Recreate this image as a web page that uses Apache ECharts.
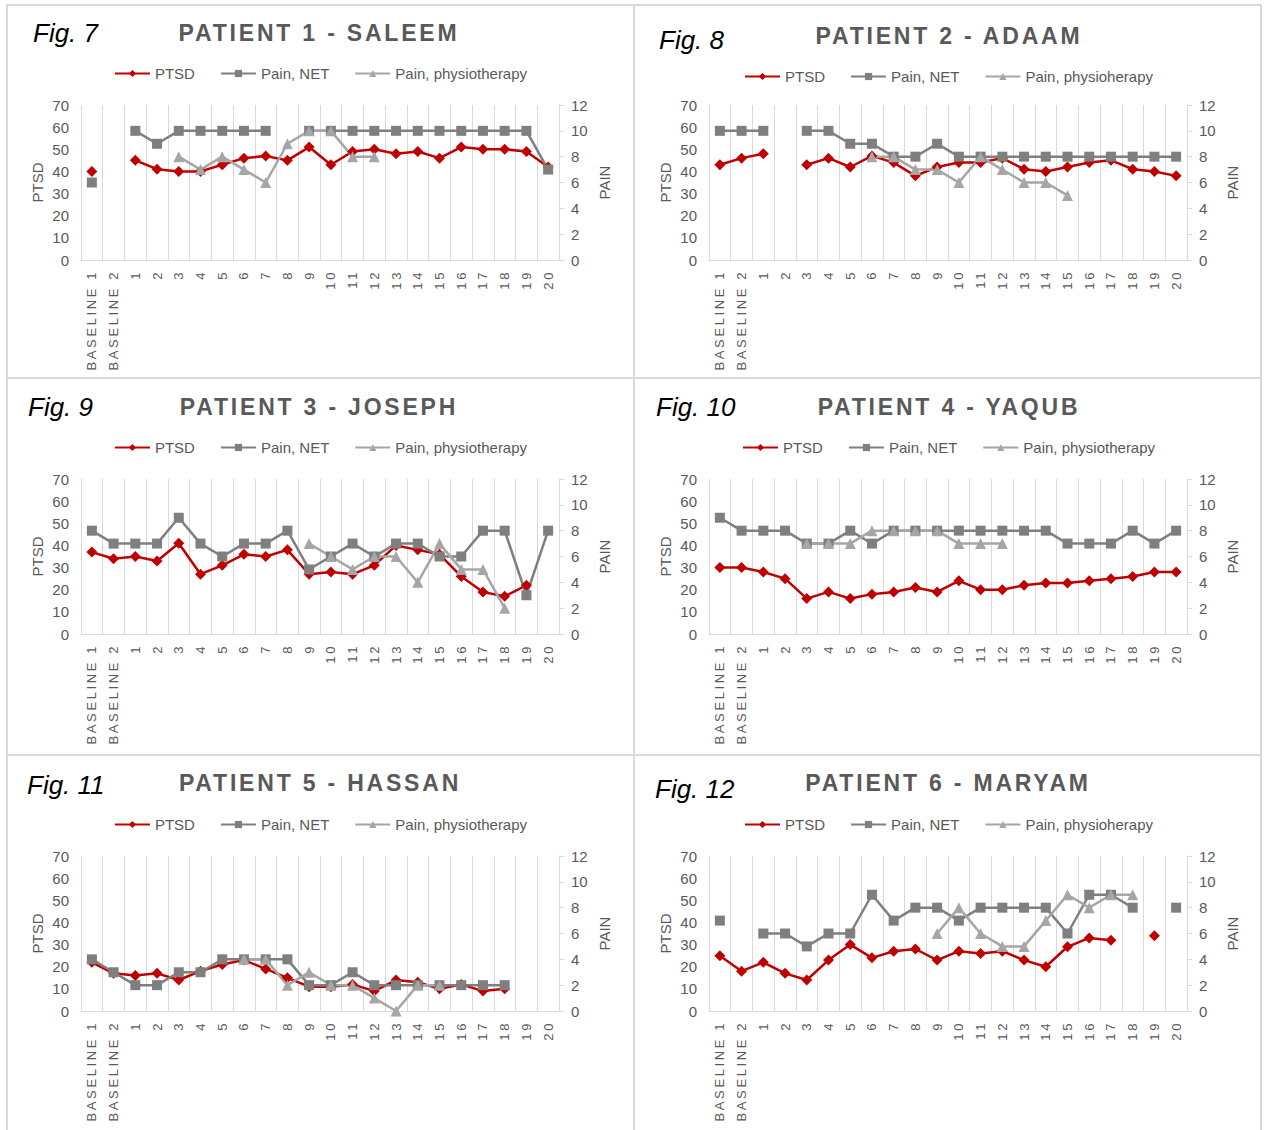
<!DOCTYPE html>
<html>
<head>
<meta charset="utf-8">
<script src="https://cdn.jsdelivr.net/npm/echarts@6/dist/echarts.min.js"></script>
<style>
  html, body { margin: 0; padding: 0; background: #fff; }
  #wrap { position: relative; width: 1264px; height: 1130px; overflow: hidden; background: #fff; }
  .panel { position: absolute; width: 627px; height: 375px; }
  .chart { position: absolute; left: 0; top: 0; width: 627px; height: 375px; }
  .fig { position: absolute; font-family: "Liberation Sans", Arial, sans-serif; font-style: italic; font-size: 26px; color: #000; white-space: nowrap; }
  .ttl { position: absolute; font-family: "Liberation Sans", Arial, sans-serif; font-weight: bold; font-size: 23px; letter-spacing: 2.8px; color: #595959; white-space: nowrap; transform: translateX(-50%); }
  .line { position: absolute; background: #d9d9d9; }
</style>
</head>
<body>
<div id="wrap"></div>
<script>
// ---------- data ----------
const categories = ['BASELINE 1','BASELINE 2','1','2','3','4','5','6','7','8','9','10','11','12','13','14','15','16','17','18','19','20'];
const ptsdTicks = [0,10,20,30,40,50,60,70];
const painTicks = [0,2,4,6,8,10,12];

const figLabels = ['Fig. 7','Fig. 8','Fig. 9','Fig. 10','Fig. 11','Fig. 12'];
const titles = ['PATIENT 1 - SALEEM','PATIENT 2 - ADAAM','PATIENT 3 - JOSEPH','PATIENT 4 - YAQUB','PATIENT 5 - HASSAN','PATIENT 6 - MARYAM'];
const physioNames = ['Pain, physiotherapy','Pain, physioherapy','Pain, physiotherapy','Pain, physiotherapy','Pain, physiotherapy','Pain, physioherapy'];

const ptsd1   = [40,null,45,41,40,40,43,46,47,45,51,43,49,50,48,49,46,51,50,50,49,42];
const net1    = [6,null,10,9,10,10,10,10,10,null,10,10,10,10,10,10,10,10,10,10,10,7];
const physio1 = [null,null,null,null,8,7,8,7,6,9,10,10,8,8,null,null,null,null,null,null,null,null];

const ptsd2   = [43,46,48,null,43,46,42,47,44,38,42,44,44,46,41,40,42,44,45,41,40,38];
const net2    = [10,10,10,null,10,10,9,9,8,8,9,8,8,8,8,8,8,8,8,8,8,8];
const physio2 = [null,null,null,null,null,null,null,8,8,7,7,6,8,7,6,6,5,null,null,null,null,null];

const ptsd3   = [37,34,35,33,41,27,31,36,35,38,27,28,27,31,40,38,36,26,19,17,22,null];
const net3    = [8,7,7,7,9,7,6,7,7,8,5,6,7,6,7,7,6,6,8,8,3,8];
const physio3 = [null,null,null,null,null,null,null,null,null,null,7,6,5,6,6,4,7,5,5,2,null,null];

const ptsd4   = [30,30,28,25,16,19,16,18,19,21,19,24,20,20,22,23,23,24,25,26,28,28];
const net4    = [9,8,8,8,7,7,8,7,8,8,8,8,8,8,8,8,7,7,7,8,7,8];
const physio4 = [null,null,null,null,7,7,7,8,8,8,8,7,7,7,null,null,null,null,null,null,null,null];

const ptsd5   = [22,17,16,17,14,18,21,23,19,15,11,11,12,9,14,13,10,12,9,10,null,null];
const net5    = [4,3,2,2,3,3,4,4,4,4,2,2,3,2,2,2,2,2,2,2,null,null];
const physio5 = [null,null,null,null,null,null,null,4,4,2,3,2,2,1,0,2,2,null,null,null,null,null];

const ptsd6   = [25,18,22,17,14,23,30,24,27,28,23,27,26,27,23,20,29,33,32,null,34,null];
const net6    = [7,null,6,6,5,6,6,9,7,8,8,7,8,8,8,8,6,9,9,8,null,8];
const physio6 = [null,null,null,null,null,null,null,null,null,null,6,8,6,5,5,7,9,8,9,9,null,null];

const ptsdAll = [ptsd1,ptsd2,ptsd3,ptsd4,ptsd5,ptsd6];
const netAll = [net1,net2,net3,net4,net5,net6];
const physioAll = [physio1,physio2,physio3,physio4,physio5,physio6];

// ---------- layout ----------
const panelPos = [[7,5],[635,5],[7,379],[635,379],[7,756],[635,756]];
const figPos = [[26,13],[24,20],[21,13],[21,13],[20,14],[20,18]];
const ttlPos = [[312,15],[314,18],[312,15],[314,15],[313,14],[313,14]];
const legendTop = [56,59,56,56,56,56];

const FONT = '"Liberation Sans", Arial, sans-serif';
const TXT = '#595959';
const GRID = '#d9d9d9';
const catSet = new Set(categories);

const wrap = document.getElementById('wrap');
function addLine(l,t,w,h){ const d=document.createElement('div'); d.className='line'; d.style.left=l+'px'; d.style.top=t+'px'; d.style.width=w+'px'; d.style.height=h+'px'; wrap.appendChild(d); }
addLine(6,4,1256,2);
addLine(6,4,2,1130);
addLine(1260,4,2,1130);
addLine(633,4,2,1130);
addLine(6,377,1256,2);
addLine(6,754,1256,2);

function spaceLabels(container){
  container.querySelectorAll('text').forEach(function(t){
    const s = (t.textContent||'').trim();
    if (!catSet.has(s)) return;
    const tr = t.getAttribute('transform') || '';
    const m = tr.match(/matrix\(([^)]+)\)/);
    if (!m) return;
    const a = parseFloat(m[1].split(/[ ,]+/)[0]);
    if (Math.abs(a) < 0.01) { t.style.letterSpacing = '2.6px'; }
  });
}

for (let i=0;i<6;i++){
  const p=document.createElement('div'); p.className='panel';
  p.style.left=panelPos[i][0]+'px'; p.style.top=panelPos[i][1]+'px';
  const c=document.createElement('div'); c.className='chart'; p.appendChild(c);
  const f=document.createElement('div'); f.className='fig'; f.textContent=figLabels[i];
  f.style.left=figPos[i][0]+'px'; f.style.top=figPos[i][1]+'px'; p.appendChild(f);
  const t=document.createElement('div'); t.className='ttl'; t.textContent=titles[i];
  t.style.left=ttlPos[i][0]+'px'; t.style.top=ttlPos[i][1]+'px'; p.appendChild(t);
  wrap.appendChild(p);

  const chart = echarts.init(c, null, {renderer:'svg'});
  chart.on('finished', function(){ spaceLabels(c); });
  chart.setOption({
    animation:false,
    backgroundColor:'transparent',
    legend:{
      top:legendTop[i], left:'center', itemWidth:35, itemHeight:9, itemGap:25,
      textStyle:{color:TXT, fontSize:15, fontFamily:FONT},
      data:['PTSD','Pain, NET',physioNames[i]]
    },
    grid:{left:74, top:100, width:478, height:155},
    xAxis:{
      type:'category', data:categories, boundaryGap:true,
      axisLine:{show:true, lineStyle:{color:GRID, width:1}},
      axisTick:{show:false},
      splitLine:{show:true, interval:0, lineStyle:{color:GRID, width:1}},
      axisLabel:{interval:0, rotate:90, margin:10, color:TXT, fontSize:13, fontFamily:FONT}
    },
    yAxis:[{
      type:'value', min:0, max:70, interval:10, position:'left',
      name:'PTSD', nameLocation:'middle', nameGap:36, nameRotate:90, nameMoveOverlap:false,
      nameTextStyle:{color:TXT, fontSize:15, fontFamily:FONT},
      axisLine:{show:false}, axisTick:{show:false}, splitLine:{show:false},
      axisLabel:{color:TXT, fontSize:15, fontFamily:FONT, margin:12}
    },{
      type:'value', min:0, max:12, interval:2, position:'right',
      name:'PAIN', nameLocation:'middle', nameGap:38, nameRotate:90, nameMoveOverlap:false,
      nameTextStyle:{color:TXT, fontSize:15, fontFamily:FONT},
      axisLine:{show:true, lineStyle:{color:GRID, width:1}},
      axisTick:{show:true, length:5, lineStyle:{color:GRID}},
      splitLine:{show:false},
      axisLabel:{color:TXT, fontSize:15, fontFamily:FONT, margin:12}
    }],
    series:[{
      name:'PTSD', type:'line', yAxisIndex:0, data:ptsdAll[i], connectNulls:false,
      symbol:'diamond', symbolSize:11, color:'#C00000',
      itemStyle:{color:'#C00000'}, lineStyle:{color:'#C00000', width:2.5}
    },{
      name:'Pain, NET', type:'line', yAxisIndex:1, data:netAll[i], connectNulls:false,
      symbol:'rect', symbolSize:10, color:'#7F7F7F',
      itemStyle:{color:'#7F7F7F'}, lineStyle:{color:'#7F7F7F', width:2.5}
    },{
      name:physioNames[i], type:'line', yAxisIndex:1, data:physioAll[i], connectNulls:false,
      symbol:'triangle', symbolSize:11, color:'#A6A6A6',
      itemStyle:{color:'#A6A6A6'}, lineStyle:{color:'#A6A6A6', width:2.5}
    }]
  });
  chart.getZr().flush && chart.getZr().flush();
  spaceLabels(c);
}
</script>
</body>
</html>
